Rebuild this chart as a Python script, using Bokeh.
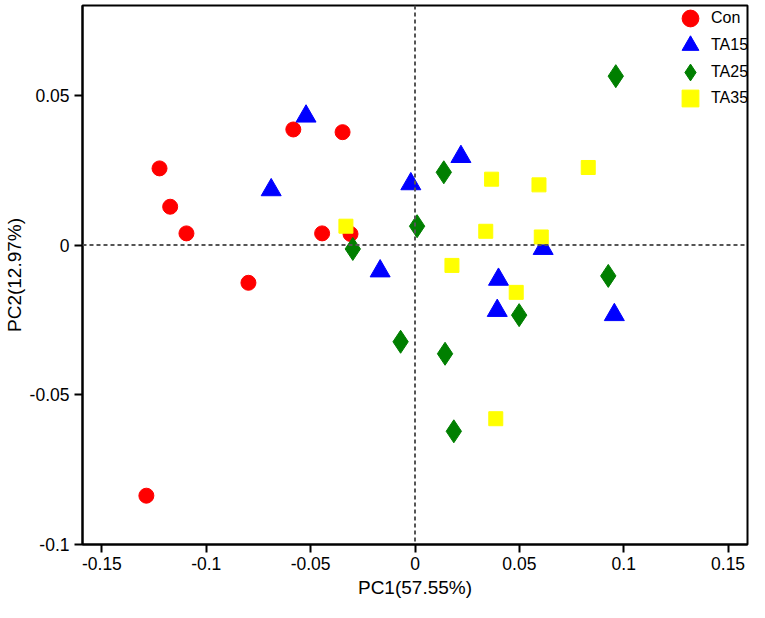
from bokeh.plotting import figure
from bokeh.models import Range1d, FixedTicker, Span, Legend, LegendItem
from bokeh.embed import file_html
from bokeh.resources import INLINE

# ---- data ----
con_x = [-0.1224, -0.1173, -0.1095, -0.0798, -0.0583, -0.0347, -0.0445, -0.0309, -0.1287]
con_y = [0.0256, 0.0128, 0.0039, -0.0126, 0.0386, 0.0377, 0.0039, 0.0037, -0.0837]

ta15_x = [-0.0522, -0.0689, -0.0167, -0.0020, 0.0220, 0.0614, 0.0400, 0.0394, 0.0955]
ta15_y = [0.0430, 0.0184, -0.0087, 0.0204, 0.0295, -0.0012, -0.0115, -0.0219, -0.0233]

ta25_x = [0.0962, 0.0138, 0.0010, -0.0298, 0.0926, 0.0499, -0.0069, 0.0144, 0.0186]
ta25_y = [0.0564, 0.0243, 0.0063, -0.0013, -0.0103, -0.0234, -0.0323, -0.0363, -0.0622]

ta35_x = [-0.0331, 0.0367, 0.0594, 0.0830, 0.0339, 0.0605, 0.0177, 0.0485, 0.0387]
ta35_y = [0.0063, 0.0220, 0.0201, 0.0259, 0.0046, 0.0027, -0.0068, -0.0158, -0.0580]

group_names = ["Con", "TA15", "TA25", "TA35"]

x_ticks = [-0.15, -0.1, -0.05, 0, 0.05, 0.1, 0.15]
x_tick_labels = ["-0.15", "-0.1", "-0.05", "0", "0.05", "0.1", "0.15"]
y_ticks = [-0.1, -0.05, 0, 0.05]
y_tick_labels = ["-0.1", "-0.05", "0", "0.05"]

x_label = "PC1(57.55%)"
y_label = "PC2(12.97%)"

FONT = "Liberation Sans"

W, H = 749, 602
BL, BR, BT, BB = 80, 2, 5, 58

p = figure(width=W, height=H,
           x_range=Range1d(-0.1593, 0.1593), y_range=Range1d(-0.1, 0.08),
           output_backend="svg", toolbar_location=None,
           min_border_left=BL, min_border_right=BR, min_border_top=BT,
           min_border_bottom=BB)

p.background_fill_color = "white"
p.border_fill_color = "white"
p.xgrid.grid_line_color = None
p.ygrid.grid_line_color = None
p.outline_line_color = "black"
p.outline_line_width = 2
p.outline_line_alpha = 1

for ax, ticks, labels in ((p.xaxis[0], x_ticks, x_tick_labels), (p.yaxis[0], y_ticks, y_tick_labels)):
    ax.ticker = FixedTicker(ticks=ticks)
    ax.major_label_overrides = {t: l for t, l in zip(ticks, labels)}
    ax.minor_tick_line_color = None
    ax.major_tick_out = 8
    ax.major_tick_in = 0
    ax.major_tick_line_width = 2
    ax.major_tick_line_color = "black"
    ax.axis_line_width = 2
    ax.axis_line_color = "black"
    ax.major_label_text_font = FONT
    ax.major_label_text_font_size = "17.5px"
    ax.major_label_text_color = "black"
    ax.axis_label_text_font = FONT
    ax.axis_label_text_font_size = "19px"
    ax.axis_label_text_font_style = "normal"
    ax.axis_label_text_color = "black"

p.xaxis.axis_label = x_label
p.yaxis.axis_label = y_label
p.xaxis.major_label_standoff = 4
p.yaxis.major_label_standoff = 5
p.xaxis.axis_label_standoff = 4
p.yaxis.axis_label_standoff = 2

p.add_layout(Span(location=0, dimension="height", line_color="#555555",
                  line_width=2, line_dash="4 3"))
p.add_layout(Span(location=0, dimension="width", line_color="#555555",
                  line_width=2, line_dash="4 3"))

r_con = p.scatter(con_x, con_y, marker="circle", size=15,
                  fill_color="#FF0000", line_color="#FF0000")
r_15 = p.scatter(ta15_x, ta15_y, marker="triangle", size=20,
                 fill_color="#0000FF", line_color="#0000FF")
r_25 = p.scatter(ta25_x, ta25_y, marker="diamond", size=23,
                 fill_color="#007F00", line_color="#007F00")
r_35 = p.scatter(ta35_x, ta35_y, marker="square", size=14,
                 fill_color="#FFFF00", line_color="#FFFF00")

# one legend box per entry, stacked with a fixed row pitch (layout only)
frame_h = H - BT - BB
GW, GH = 42, 46
row_pitch = 26.8
first_row_center = 13  # px below the frame top
legend_left = 587      # px from the frame's left edge
for i, (name, r) in enumerate(zip(group_names, [r_con, r_15, r_25, r_35])):
    center = first_row_center + i * row_pitch
    lg = Legend(
        items=[LegendItem(label=name, renderers=[r])],
        location=(legend_left, frame_h - center - GH / 2),
        glyph_width=GW, glyph_height=GH, spacing=0, label_standoff=0,
        padding=0, margin=0, border_line_color=None, background_fill_alpha=0,
        label_text_font=FONT, label_text_font_size="16px", label_text_color="black",
    )
    p.add_layout(lg)

open("out.html", "w").write(file_html(p, INLINE))
